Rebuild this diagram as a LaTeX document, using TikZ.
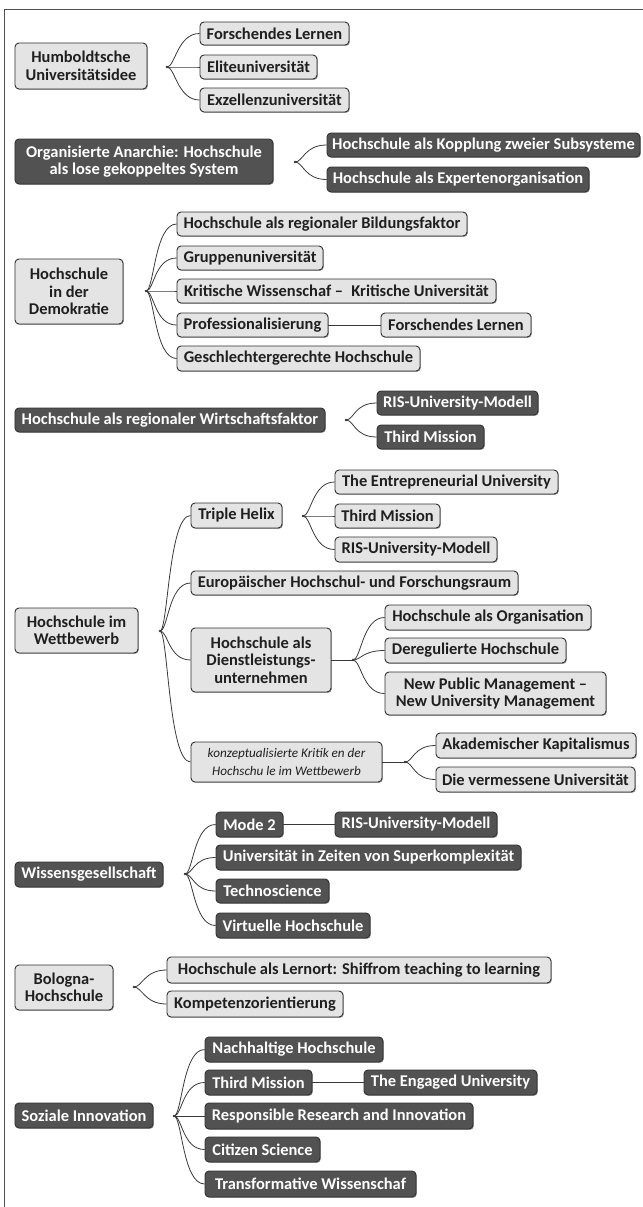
\documentclass[tikz,border=0pt]{standalone}
\usepackage{fontspec}
\setmainfont{Carlito}
\usetikzlibrary{calc,shadows}
\definecolor{lfill}{HTML}{E4E4E4}
\definecolor{dfill}{HTML}{525252}
\definecolor{edgecol}{HTML}{303030}
\definecolor{conncol}{HTML}{383838}
\definecolor{framecol}{HTML}{505050}
\definecolor{shadecol}{HTML}{8A8A8A}
\tikzset{
  basebox/.style={draw=edgecol, line width=0.9bp, rounded corners=4bp, inner sep=0pt, align=center,
    font=\fontsize{16.5}{17.5}\selectfont\bfseries,
    drop shadow={shadow xshift=0.9bp, shadow yshift=-0.9bp, fill=shadecol, opacity=0.8}},
  lbox/.style={basebox, fill=lfill, text=black!88},
  dbox/.style={basebox, fill=dfill, text=white},
  ibox/.style={lbox, font=\fontsize{13.2}{18}\selectfont\itshape},
  conn/.style={draw=conncol, line width=0.8bp},
}
\newcommand\bx[7]{%
  \pgfmathsetmacro\bxw{#4-#3}\pgfmathsetmacro\bxh{#6-#5}%
  \node[#1, minimum width=\bxw bp, minimum height=\bxh bp] (#2) at ({(#3+#4)/2},{(#5+#6)/2}) {#7};}
\newcommand\br[2]{\draw[conn] (#1) .. controls ([xshift=8bp]#1) and ([xshift=-22bp]#2.west) .. (#2.west);}
\newcommand\knot[1]{\fill[conncol] (#1) circle (1.3bp);}
\begin{document}
\begin{tikzpicture}[x=1bp,y=-1bp]
\useasboundingbox (0,0) rectangle (643,1207);
\draw[framecol, line width=1bp] (643,9) -- (4,9) -- (4,1207);

% Humboldt
\bx{lbox}{hum}{15}{147}{43}{89}{Humboldtsche\\Universitätsidee}
\bx{lbox}{h1}{200}{349}{22}{45}{Forschendes Lernen}
\bx{lbox}{h2}{200}{317}{55}{79}{Eliteuniversität}
\bx{lbox}{h3}{200}{349}{88}{112}{Exzellenzuniversität}
\coordinate (hk) at (167,67);
\br{hk}{h1}\br{hk}{h2}\br{hk}{h3}\knot{hk}

% Organisierte Anarchie
\bx{dbox}{org}{15}{273}{139}{184}{Organisierte Anarchie: Hochschule\\als lose gekoppeltes System}
\bx{dbox}{o1}{327}{640}{133}{157}{Hochschule als Kopplung zweier Subsysteme}
\bx{dbox}{o2}{327}{589}{167}{192}{Hochschule als Expertenorganisation}
\coordinate (ok) at (295,162);
\br{ok}{o1}\br{ok}{o2}\knot{ok}

% Demokratie
\bx{lbox}{dem}{15}{123}{259}{324}{Hochschule\\in der\\Demokratie}
\bx{lbox}{d1}{177}{467}{212}{236}{Hochschule als regionaler Bildungsfaktor}
\bx{lbox}{d2}{177}{323}{246}{270}{Gruppenuniversität}
\bx{lbox}{d3}{177}{496}{279}{303}{Kritische Wissenschaf –\enspace Kritische Universität}
\bx{lbox}{d4}{177}{328}{313}{337}{Professionalisierung}
\bx{lbox}{d4b}{381}{531}{313}{337}{Forschendes Lernen}
\bx{lbox}{d5}{177}{420}{346}{371}{Geschlechtergerechte Hochschule}
\coordinate (dk) at (146,291);
\br{dk}{d1}\br{dk}{d2}\br{dk}{d3}\br{dk}{d4}\br{dk}{d5}\knot{dk}
\draw[conn] (d4.east) -- (d4b.west);

% Wirtschaftsfaktor
\bx{dbox}{wirt}{15}{325}{408}{432}{Hochschule als regionaler Wirtschaftsfaktor}
\bx{dbox}{w1}{377}{538}{391}{415}{RIS-University-Modell}
\bx{dbox}{w2}{377}{484}{425}{449}{Third Mission}
\coordinate (wk) at (346,420);
\br{wk}{w1}\br{wk}{w2}\knot{wk}

% Wettbewerb
\bx{lbox}{wett}{15}{138}{608}{653}{Hochschule im\\Wettbewerb}
\coordinate (tk) at (160,631);
\bx{lbox}{t1}{191}{282}{503}{528}{Triple Helix}
\bx{lbox}{t1a}{335}{558}{470}{494}{The Entrepreneurial University}
\bx{lbox}{t1b}{335}{440}{504}{528}{Third Mission}
\bx{lbox}{t1c}{335}{497}{537}{562}{RIS-University-Modell}
\coordinate (t1k) at (303,516);
\bx{lbox}{t2}{191}{518}{571}{595}{Europäischer Hochschul- und Forschungsraum}
\bx{lbox}{t3}{191}{331}{628}{692}{Hochschule als\\Dienstleistungs-\\unternehmen}
\bx{lbox}{t3a}{385}{591}{605}{630}{Hochschule als Organisation}
\bx{lbox}{t3b}{385}{566}{638}{663}{Deregulierte Hochschule}
\bx{lbox}{t3c}{385}{606}{672}{715}{New Public Management –\\New University Management}
\coordinate (t3k) at (353,660);
\bx{ibox}{t4}{191}{382}{742}{782}{konzeptualisierte Kritik en der\\Hochschu le im Wettbewerb}
\bx{lbox}{t4a}{436}{636}{733}{758}{Akademischer Kapitalismus}
\bx{lbox}{t4b}{436}{635}{767}{792}{Die vermessene Universität}
\coordinate (t4k) at (405,762);
\br{tk}{t1}\br{tk}{t2}\br{tk}{t3}\br{tk}{t4}\knot{tk}
\br{t1k}{t1a}\br{t1k}{t1b}\br{t1k}{t1c}\knot{t1k}
\draw[conn] (t3.east) -- (t3k);
\br{t3k}{t3a}\br{t3k}{t3b}\br{t3k}{t3c}\knot{t3k}
\draw[conn] (t4.east) -- (t4k);
\br{t4k}{t4a}\br{t4k}{t4b}\knot{t4k}

% Wissensgesellschaft
\bx{dbox}{wiss}{15}{163}{862}{887}{Wissensgesellschaft}
\bx{dbox}{s1}{216}{283}{812}{837}{Mode 2}
\bx{dbox}{s1b}{335}{497}{812}{837}{RIS-University-Modell}
\bx{dbox}{s2}{216}{521}{845}{870}{Universität in Zeiten von Superkomplexität}
\bx{dbox}{s3}{216}{329}{879}{903}{Technoscience}
\bx{dbox}{s4}{216}{370}{913}{938}{Virtuelle Hochschule}
\coordinate (sk) at (185,874);
\br{sk}{s1}\br{sk}{s2}\br{sk}{s3}\br{sk}{s4}\knot{sk}
\draw[conn] (s1.east) -- (s1b.west);

% Bologna
\bx{lbox}{bol}{15}{113}{965}{1010}{Bologna-\\Hochschule}
\bx{lbox}{b1}{167}{551}{957}{983}{Hochschule als Lernort: Shiffrom teaching to learning}
\bx{lbox}{b2}{167}{343}{991}{1017}{Kompetenzorientierung}
\coordinate (bk) at (134,987);
\br{bk}{b1}\br{bk}{b2}\knot{bk}

% Soziale Innovation
\bx{dbox}{soz}{15}{153}{1103}{1128}{Soziale Innovation}
\bx{dbox}{z1}{205}{383}{1037}{1062}{Nachhaltige Hochschule}
\bx{dbox}{z2}{205}{312}{1070}{1095}{Third Mission}
\bx{dbox}{z2b}{364}{537}{1070}{1095}{The Engaged University}
\bx{dbox}{z3}{205}{473}{1103}{1129}{Responsible Research and Innovation}
\bx{dbox}{z4}{205}{320}{1137}{1162}{Citizen Science}
\bx{dbox}{z5}{205}{416}{1171}{1197}{Transformative Wissenschaf}
\coordinate (zk) at (174,1116);
\br{zk}{z1}\br{zk}{z2}\br{zk}{z3}\br{zk}{z4}\br{zk}{z5}\knot{zk}
\draw[conn] (z2.east) -- (z2b.west);
\end{tikzpicture}
\end{document}
